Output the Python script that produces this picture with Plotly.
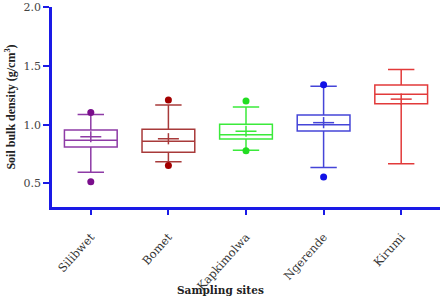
import plotly.graph_objects as go

sites = ["Silibwet", "Bomet", "Kapkimolwa", "Ngerende", "Kirumi"]
lower_fence = [0.596, 0.684, 0.782, 0.636, 0.667]
q1 = [0.810, 0.765, 0.878, 0.946, 1.177]
median = [0.867, 0.858, 0.915, 1.000, 1.259]
q3 = [0.955, 0.961, 1.003, 1.083, 1.336]
upper_fence = [1.087, 1.166, 1.151, 1.327, 1.469]
mean = [0.897, 0.880, 0.944, 1.017, 1.217]
outliers = [[1.104, 0.515], [1.21, 0.653], [1.202, 0.778], [1.339, 0.556], []]

box_colors = ["#8E3BA6", "#A83A3A", "#3BEA3B", "#4545D8", "#E23A3A"]
dot_colors = ["#7A0E8C", "#A30000", "#22DD22", "#1212E6", "#E23A3A"]

fig = go.Figure()
for i, s in enumerate(sites):
    fig.add_trace(go.Box(
        x=[s], q1=[q1[i]], median=[median[i]], q3=[q3[i]],
        lowerfence=[lower_fence[i]], upperfence=[upper_fence[i]],
        boxpoints=False, width=0.68, whiskerwidth=0.5,
        line=dict(color=box_colors[i], width=1.5),
        fillcolor="rgba(0,0,0,0)", showlegend=False, hoverinfo="skip",
    ))
    fig.add_trace(go.Scatter(
        x=[s], y=[mean[i]], mode="markers",
        marker=dict(symbol="line-ew", size=15, line=dict(color=box_colors[i], width=1.5)),
        showlegend=False, hoverinfo="skip",
    ))
    fig.add_trace(go.Scatter(
        x=[s], y=[mean[i]], mode="markers",
        marker=dict(symbol="line-ns", size=8, line=dict(color=box_colors[i], width=1.5)),
        showlegend=False, hoverinfo="skip",
    ))
    if outliers[i]:
        fig.add_trace(go.Scatter(
            x=[s] * len(outliers[i]), y=outliers[i], mode="markers",
            marker=dict(color=dot_colors[i], size=7),
            showlegend=False, hoverinfo="skip",
        ))

axis_blue = "#1a1ae6"
fig.update_layout(
    width=441, height=304,
    margin=dict(l=52, r=1, t=7, b=97),
    paper_bgcolor="white", plot_bgcolor="white",
    font=dict(family="DejaVu Serif", color="#333333", size=10),
    xaxis=dict(
        type="category", categoryorder="array", categoryarray=sites,
        range=[-0.5, 4.5], showgrid=False, zeroline=False,
        showline=True, linecolor=axis_blue, linewidth=2.5,
        ticks="outside", tickcolor=axis_blue, ticklen=5, tickwidth=2,
        tickangle=-48, ticklabelstandoff=11,
        tickfont=dict(family="DejaVu Serif", size=11.5, color="#333333"),
    ),
    yaxis=dict(
        range=[0.3, 2.0], tickvals=[0.5, 1.0, 1.5, 2.0], ticktext=["0.5", "1.0", "1.5", "2.0"],
        showgrid=False, zeroline=False,
        showline=True, linecolor=axis_blue, linewidth=2.5,
        ticks="outside", tickcolor=axis_blue, ticklen=6, tickwidth=2,
        tickfont=dict(family="DejaVu Serif", size=11, color="#444444"),
        title=dict(text="<b>Soil bulk density (g/cm<sup>3</sup>)</b>", standoff=6,
                   font=dict(family="Liberation Serif", size=12, color="#222222")),
    ),
    annotations=[dict(
        text="<b>Sampling sites</b>", xref="paper", yref="paper",
        x=(220 - 52) / 388, y=-(290 - 207) / 200, xanchor="center", yanchor="middle",
        showarrow=False, font=dict(family="DejaVu Serif", size=10.5, color="#222222"),
    )],
)

fig.write_html("out.html")
